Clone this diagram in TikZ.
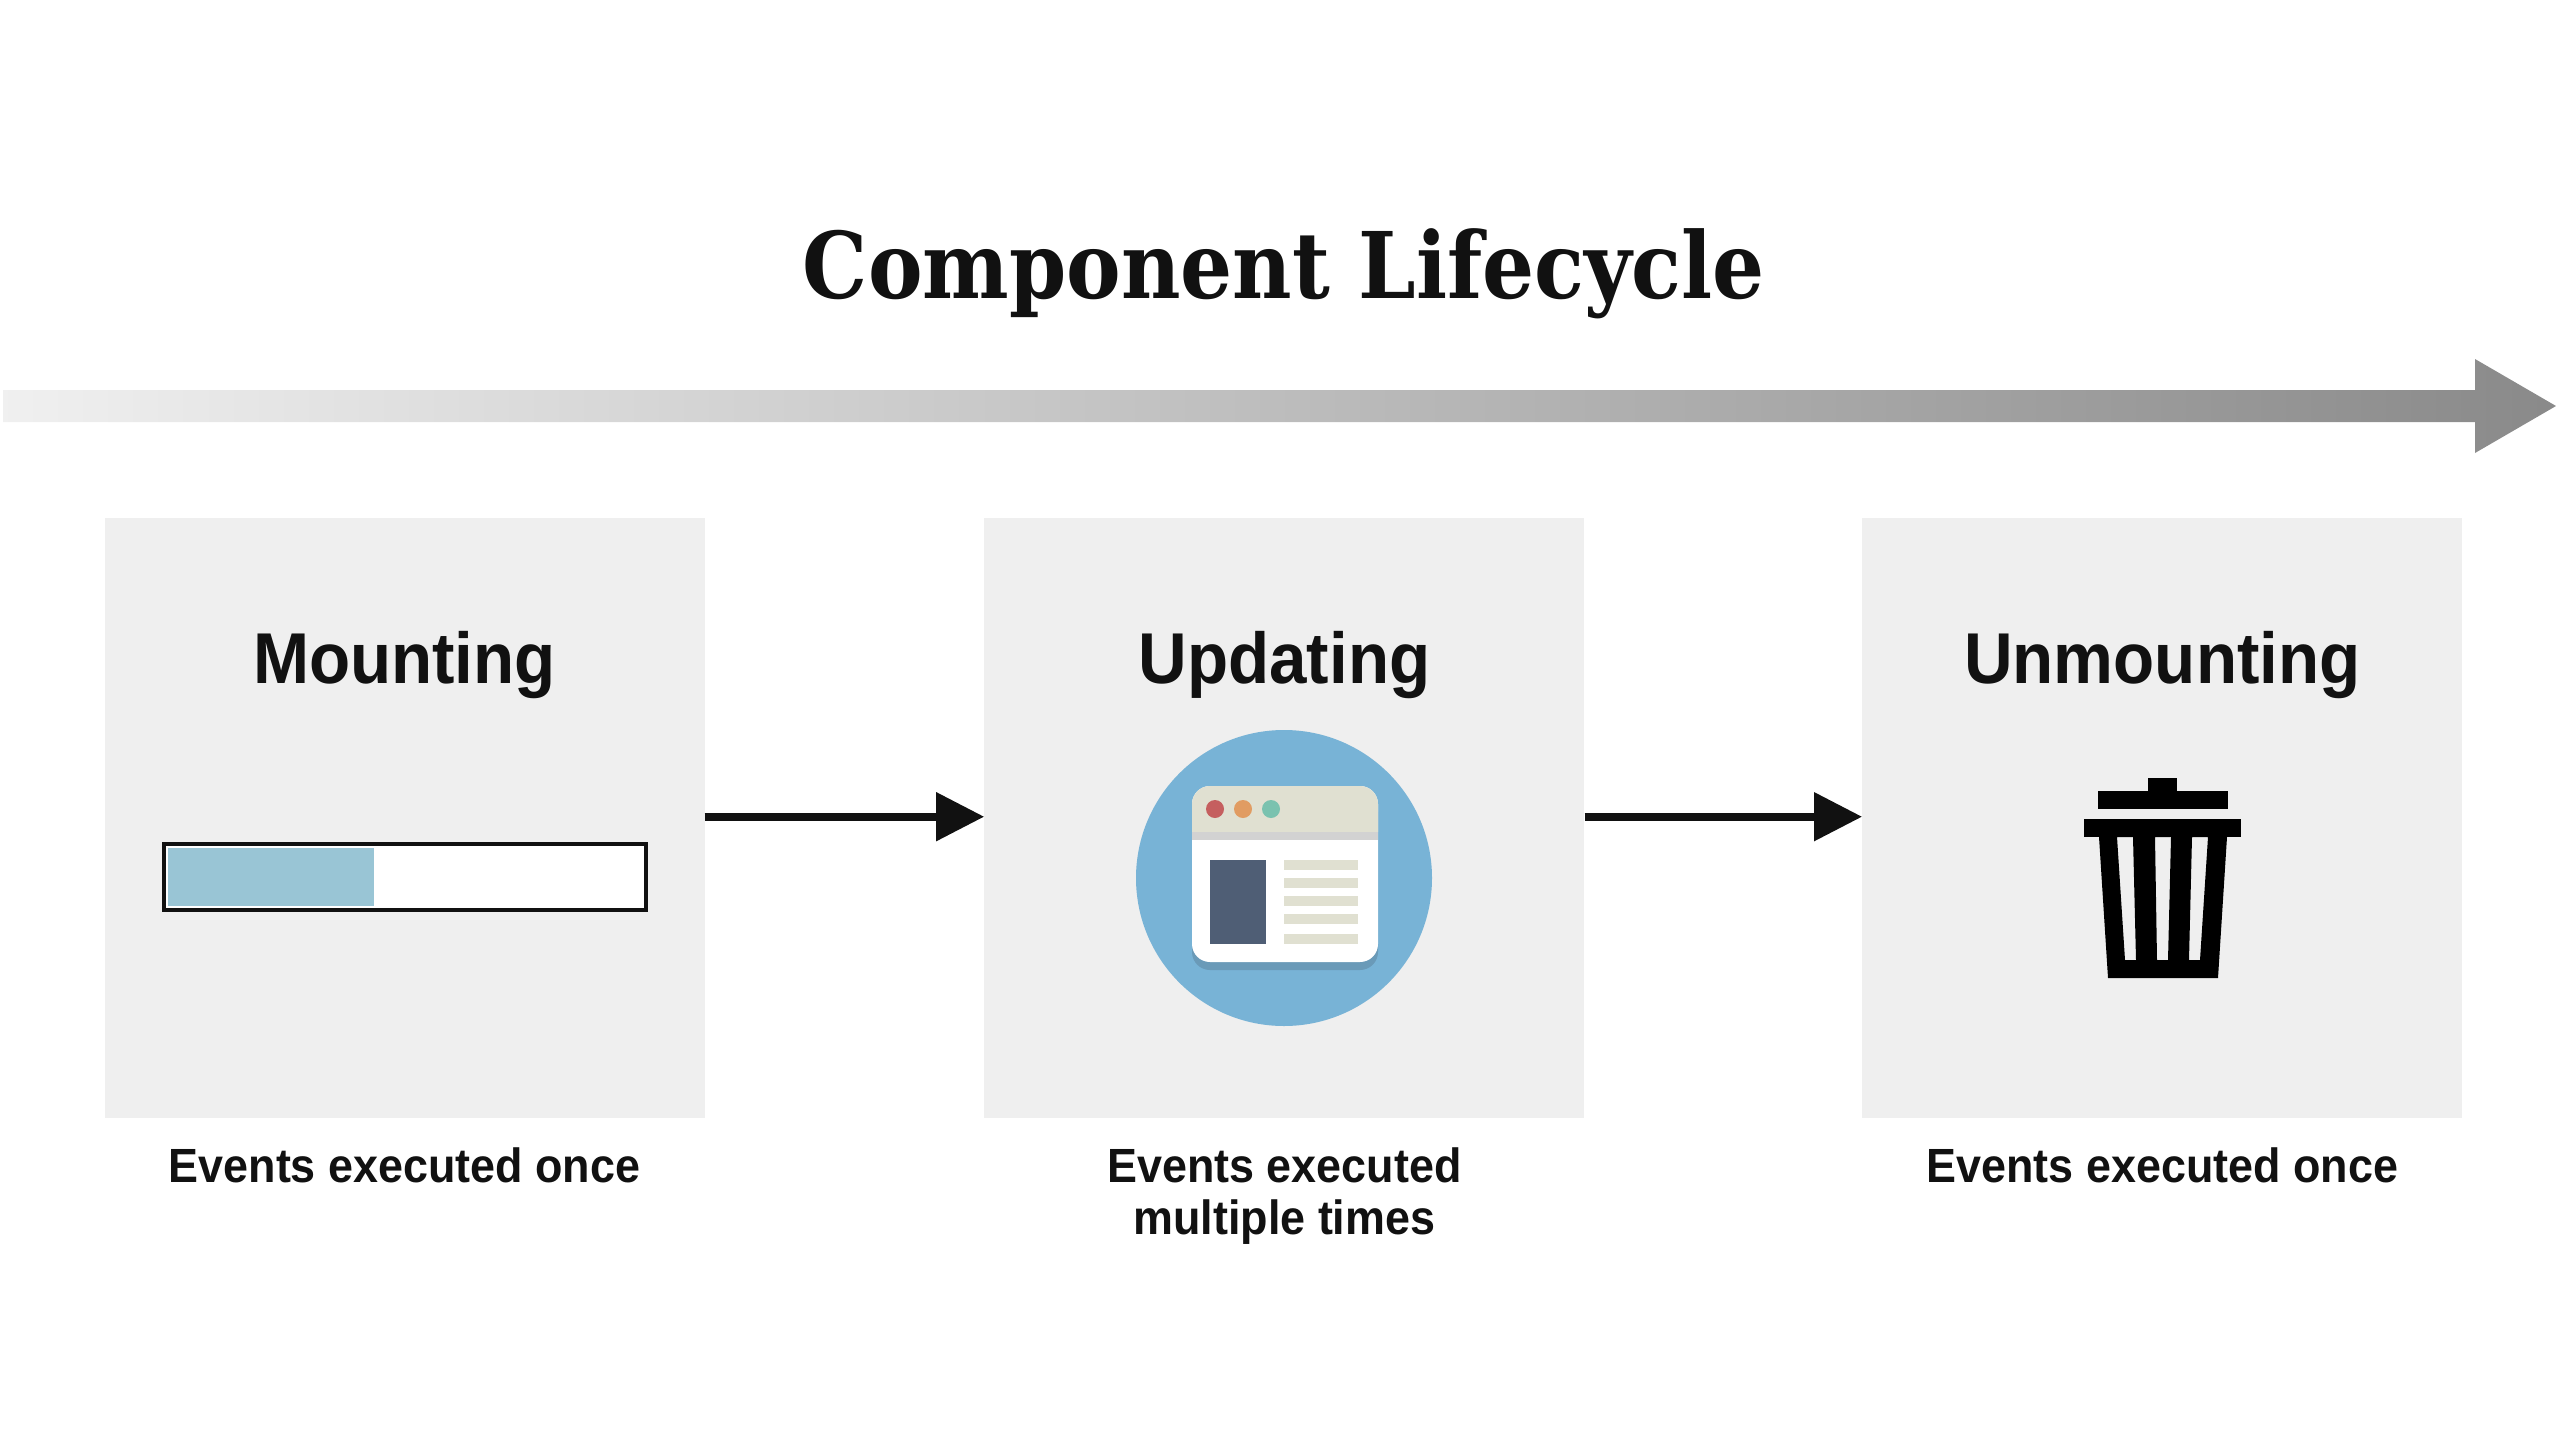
\documentclass[tikz,border=0pt]{standalone}
\usepackage{fontspec}
\setmainfont[FakeStretch=0.935]{Liberation Sans}
\newfontfamily\slabfont[FakeStretch=0.89]{DejaVu Serif}
\usetikzlibrary{arrows.meta, positioning}
\definecolor{panelgrey}{HTML}{EFEFEF}
\definecolor{inkblack}{HTML}{111111}
\definecolor{discblue}{HTML}{78B3D6}
\definecolor{barblue}{HTML}{99C5D5}
\definecolor{paneltan}{HTML}{E0E0D1}
\definecolor{tabgrey}{HTML}{D2D2D2}
\definecolor{shadowblue}{HTML}{6A9AB8}
\definecolor{slate}{HTML}{4F5E75}
\tikzstyle{arrow} = [line width=8pt,-{Triangle[length=48pt,width=47pt]},draw=inkblack]
\tikzstyle{panel} = [rectangle, fill=panelgrey, minimum size=600pt, inner sep=0pt]
\tikzstyle{heading} = [anchor=north, inner sep=0pt, text=inkblack, text height=52pt, text depth=16pt, font=\fontsize{72pt}{80pt}\selectfont\bfseries]
\tikzstyle{caption} = [inner sep=0pt, text=inkblack, align=center, font=\fontsize{48pt}{52pt}\selectfont\bfseries]
\tikzstyle{pagetitle} = [anchor=base, inner sep=0pt, text=inkblack, font=\fontsize{92pt}{100pt}\selectfont\slabfont\bfseries]
\begin{document}
\begin{tikzpicture}[x=1pt, y=-1pt]
\useasboundingbox (0,0) rectangle (2560,1440);
% Timeline
\node (title) [pagetitle] at (1284,298) {Component Lifecycle};
\shade [left color=black!6, right color=black!46] (3,390) -- (2475,390) -- (2475,359) -- (2556,406) -- (2475,453) -- (2475,422) -- (3,422) -- cycle;

% Placement of panels
\node (mountBox) [panel] at (404.5,818) {};
\node (updateBox) [panel, right=279.5pt of mountBox] {};
\node (unmountBox) [panel, right=277.5pt of updateBox] {};

\node (mountHead) [heading, below=113pt of mountBox.north] {Mounting};
\node (updateHead) [heading, below=113pt of updateBox.north] {Updating};
\node (unmountHead) [heading, below=113pt of unmountBox.north] {Unmounting};

\node (mountText) [caption, below=29pt of mountBox] {Events executed once};
\node (updateText) [caption, below=29pt of updateBox] {Events executed\\multiple times};
\node (unmountText) [caption, below=29pt of unmountBox] {Events executed once};

% Placement of edges
\draw [arrow] ([yshift=1.3pt]mountBox.east) -- ([yshift=1.3pt]updateBox.west);
\draw [arrow] ([yshift=1.3pt]updateBox.east) -- ([yshift=1.3pt]unmountBox.west);

% Progress bar
\draw [line width=4pt, draw=inkblack, fill=white] (163.5,844) rectangle (646,910);
\fill [barblue] (168,848) rectangle (374,906);

% Browser icon
\fill [discblue] (1284,878) circle (148);
\fill [shadowblue, rounded corners=18pt] (1192,794) rectangle (1378,970);
\fill [white, rounded corners=18pt] (1192,786) rectangle (1378,962);
\fill [paneltan] (1192,832) [rounded corners=18pt] -- (1192,786) -- (1378,786) [sharp corners] -- (1378,832) -- cycle;
\fill [tabgrey] (1192,832) rectangle (1378,840);
\foreach \dotx/\dotcol in {1215/C55F5F, 1243/E19C62, 1271/7AC2AF} {
	\definecolor{dotfill}{HTML}{\dotcol}
	\fill [dotfill] (\dotx,809) circle (9);
}
\fill [slate] (1210,860) rectangle (1266,944);
\foreach \liney in {860,878,896,914,934} {
	\fill [paneltan] (1284,\liney) rectangle +(74,10);
}

% Trash icon
\fill [black] (2148,778) rectangle (2177,795);
\fill [black] (2098,791) rectangle (2228,809);
\fill [black] (2084,819) rectangle (2241,837);
\fill [black, even odd rule] (2099,837) -- (2227,837) -- (2218,978) -- (2108,978) -- cycle
	(2117,837) -- (2133,837) -- (2136,960) -- (2125,960) -- cycle
	(2155,837) -- (2171,837) -- (2168,960) -- (2157,960) -- cycle
	(2192,837) -- (2208,837) -- (2200,960) -- (2189,960) -- cycle;
\end{tikzpicture}
\end{document}
